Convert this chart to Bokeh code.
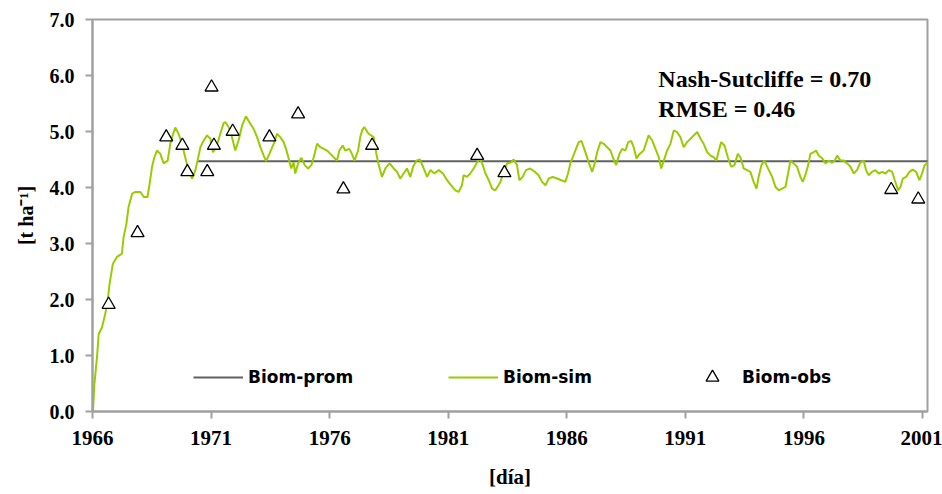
from bokeh.plotting import figure
from bokeh.models import Legend, LegendItem, Label, FixedTicker, PrintfTickFormatter, Range1d
from bokeh.embed import file_html
from bokeh.resources import INLINE

# ---------------- data ----------------
sim_year = [
    1966.02, 1966.08, 1966.19, 1966.26, 1966.40, 1966.54, 1966.64, 1966.72, 1966.86, 1967.03,
    1967.24, 1967.31, 1967.43, 1967.52, 1967.67, 1967.81, 1968.02, 1968.16, 1968.32, 1968.41,
    1968.51, 1968.61, 1968.72, 1968.86, 1969.00, 1969.17, 1969.28, 1969.40, 1969.49, 1969.63,
    1969.77, 1969.91, 1970.05, 1970.20, 1970.34, 1970.43, 1970.55, 1970.69, 1970.83, 1970.97,
    1971.08, 1971.22, 1971.39, 1971.53,
    1971.60, 1971.74, 1971.88, 1972.02, 1972.16, 1972.31, 1972.47, 1972.61, 1972.79, 1972.94,
    1973.08, 1973.22, 1973.32, 1973.46, 1973.64, 1973.78, 1973.92, 1974.06, 1974.16, 1974.27,
    1974.38, 1974.48, 1974.55, 1974.67, 1974.81, 1974.95, 1975.09, 1975.23, 1975.33, 1975.47,
    1975.61, 1975.75, 1975.89, 1976.03, 1976.17, 1976.31, 1976.41, 1976.55, 1976.66, 1976.83,
    1976.94, 1977.05, 1977.20, 1977.29,
    1977.37, 1977.46, 1977.64, 1977.86, 1977.97, 1978.07, 1978.21, 1978.35, 1978.53, 1978.70,
    1978.84, 1978.98, 1979.12, 1979.26, 1979.40, 1979.52, 1979.66, 1979.80, 1979.94, 1980.11,
    1980.25, 1980.42, 1980.60, 1980.78, 1980.95, 1981.12, 1981.30, 1981.44, 1981.58, 1981.65,
    1981.79, 1981.93, 1982.07, 1982.22, 1982.33, 1982.43, 1982.57, 1982.71, 1982.85, 1982.99,
    1983.20, 1983.34, 1983.48, 1983.66, 1983.76, 1983.90, 1984.00, 1984.14, 1984.28, 1984.46,
    1984.65, 1984.81, 1984.96, 1985.10, 1985.24, 1985.41, 1985.59, 1985.77, 1985.94, 1986.05,
    1986.15, 1986.25, 1986.36, 1986.50, 1986.62, 1986.71, 1986.81, 1986.92, 1987.07, 1987.18,
    1987.28, 1987.42, 1987.56, 1987.70, 1987.84, 1987.94, 1988.08, 1988.22, 1988.33, 1988.47,
    1988.59, 1988.72,
    1988.82, 1988.94, 1989.07, 1989.24, 1989.45, 1989.60, 1989.74, 1989.88, 1989.98, 1990.09,
    1990.23, 1990.37, 1990.51, 1990.65, 1990.79, 1990.93, 1991.07, 1991.22, 1991.35, 1991.50,
    1991.64, 1991.77, 1991.92, 1992.06, 1992.20, 1992.31, 1992.41, 1992.51, 1992.65, 1992.79,
    1992.93, 1993.07, 1993.21, 1993.32, 1993.46, 1993.60, 1993.74, 1993.88, 1994.00, 1994.09,
    1994.21, 1994.33,
    1994.52, 1994.66, 1994.80, 1994.94, 1995.08, 1995.22, 1995.33, 1995.43, 1995.57, 1995.71,
    1995.85, 1995.95, 1996.06, 1996.18, 1996.27, 1996.41, 1996.51, 1996.62, 1996.77, 1996.91,
    1997.05, 1997.19, 1997.30, 1997.40, 1997.54, 1997.68, 1997.82, 1997.96, 1998.10, 1998.24,
    1998.38, 1998.52, 1998.62, 1998.73, 1998.87, 1999.01, 1999.15, 1999.30, 1999.44, 1999.58,
    1999.72, 1999.83, 1999.97, 2000.07, 2000.17, 2000.31, 2000.45, 2000.59, 2000.73, 2000.87,
    2000.98, 2001.09, 2001.24,
]
sim_biom = [
    0.00, 0.49, 0.97, 1.38, 1.50, 1.75, 1.98, 2.28, 2.64, 2.76,
    2.82, 3.11, 3.35, 3.65, 3.89, 3.92, 3.92, 3.83, 3.83, 4.07,
    4.37, 4.54, 4.66, 4.60, 4.43, 4.48, 4.78, 4.96, 5.07, 4.96,
    4.78, 4.54, 4.31, 4.16, 4.31, 4.48, 4.72, 4.84, 4.93, 4.87,
    4.63, 4.72, 4.96, 5.15,
    5.17, 5.08, 4.90, 4.66, 4.84, 5.11, 5.27, 5.17, 5.05, 4.90,
    4.72, 4.57, 4.47, 4.60, 4.78, 4.96, 4.90, 4.81, 4.69, 4.52,
    4.34, 4.45, 4.25, 4.43, 4.53, 4.40, 4.34, 4.40, 4.54, 4.78,
    4.72, 4.69, 4.66, 4.60, 4.54, 4.48, 4.66, 4.75, 4.66, 4.69,
    4.60, 4.48, 4.66, 4.90,
    5.02, 5.08, 4.96, 4.90, 4.60, 4.40, 4.19, 4.34, 4.43, 4.34,
    4.28, 4.16, 4.25, 4.34, 4.19, 4.37, 4.48, 4.50, 4.37, 4.19,
    4.31, 4.25, 4.31, 4.25, 4.13, 4.04, 3.95, 3.92, 4.04, 4.22,
    4.19, 4.25, 4.34, 4.45, 4.52, 4.43, 4.25, 4.13, 3.98, 3.95,
    4.10, 4.28, 4.43, 4.45, 4.50, 4.40, 4.13, 4.19, 4.31, 4.34,
    4.28, 4.22, 4.10, 4.04, 4.16, 4.19, 4.16, 4.13, 4.10, 4.25,
    4.43, 4.54, 4.66, 4.81, 4.83, 4.72, 4.60, 4.45, 4.28, 4.43,
    4.63, 4.81, 4.78, 4.72, 4.66, 4.54, 4.40, 4.60, 4.69, 4.66,
    4.81, 4.83,
    4.72, 4.52, 4.60, 4.66, 4.93, 4.84, 4.69, 4.54, 4.34, 4.48,
    4.66, 4.78, 5.02, 4.99, 4.90, 4.72, 4.81, 4.87, 4.93, 4.99,
    4.87, 4.78, 4.63, 4.57, 4.54, 4.48, 4.66, 4.81, 4.75, 4.54,
    4.37, 4.40, 4.60, 4.54, 4.34, 4.31, 4.28, 4.10, 3.98, 4.19,
    4.40, 4.48,
    4.31, 4.19, 4.01, 3.95, 3.98, 4.01, 4.25, 4.48, 4.43, 4.37,
    4.19, 4.10, 4.22, 4.40, 4.60, 4.63, 4.66, 4.57, 4.52, 4.43,
    4.48, 4.44, 4.48, 4.57, 4.48, 4.48, 4.43, 4.37, 4.25, 4.31,
    4.45, 4.48, 4.31, 4.22, 4.28, 4.31, 4.25, 4.28, 4.25, 4.31,
    4.28, 4.13, 3.95, 4.01, 4.16, 4.19, 4.28, 4.32, 4.28, 4.13,
    4.25, 4.40, 4.44,
]

obs_year = [1966.68, 1967.90, 1969.11, 1969.79, 1970.00, 1970.84, 1971.02, 1971.12, 1971.91,
            1973.46, 1974.67, 1976.58, 1977.79, 1982.22, 1983.37, 1999.68, 2000.82]
obs_biom = [1.91, 3.19, 4.90, 4.75, 4.28, 4.28, 5.79, 4.75, 5.00,
            4.90, 5.31, 3.97, 4.75, 4.57, 4.26, 3.96, 3.79]

prom_year = [1970.45, 2001.22]
prom_biom = [4.47, 4.47]

year_ticks = [1966, 1971, 1976, 1981, 1986, 1991, 1996, 2001]
biom_ticks = [0, 1, 2, 3, 4, 5, 6, 7]

nash_text = "Nash-Sutcliffe = 0.70"
rmse_text = "RMSE = 0.46"

# ---------------- figure ----------------
serif = "Liberation Serif"
p = figure(width=942, height=494, output_backend="svg", toolbar_location=None,
           x_range=Range1d(1966, 2001.21), y_range=Range1d(0, 7),
           min_border_left=92, min_border_right=15, min_border_top=19, min_border_bottom=83)

p.xgrid.visible = False
p.ygrid.visible = False
p.background_fill_color = "white"
p.border_fill_color = "white"
p.outline_line_color = "#a0a0a0"
p.outline_line_width = 2

for ax in (p.xaxis[0], p.yaxis[0]):
    ax.axis_line_color = "#a0a0a0"
    ax.axis_line_width = 2
    ax.major_tick_line_color = "#a0a0a0"
    ax.major_tick_line_width = 2
    ax.major_tick_in = 0
    ax.major_tick_out = 7
    ax.minor_tick_line_color = None
    ax.major_label_text_font = serif
    ax.major_label_text_font_style = "bold"
    ax.major_label_text_color = "black"
    ax.axis_label_text_font = serif
    ax.axis_label_text_font_style = "bold"
    ax.axis_label_text_color = "black"

p.xaxis.ticker = FixedTicker(ticks=year_ticks)
p.xaxis.major_label_text_font_size = "21px"
p.xaxis.major_label_standoff = 12
p.xaxis.axis_label = "[día]"
p.xaxis.axis_label_text_font_size = "21px"
p.xaxis.axis_label_standoff = 17

p.yaxis.ticker = FixedTicker(ticks=biom_ticks)
p.yaxis.formatter = PrintfTickFormatter(format="%.1f")
p.yaxis.major_label_text_font_size = "20px"
p.yaxis.major_label_standoff = 11
p.yaxis.axis_label = "[t ha\u207b\u00b9]"
p.yaxis.axis_label_text_font_size = "20px"
p.yaxis.axis_label_standoff = 10

r_prom = p.line(prom_year, prom_biom, line_color="#606060", line_width=2)
r_sim = p.line(sim_year, sim_biom, line_color="#99CC00", line_width=2)
r_obs = p.scatter(obs_year, obs_biom, marker="triangle", size=13,
                  line_color="black", fill_color="white", line_width=1.3)

p.add_layout(Label(x=1989.86, y=5.93, text=nash_text, text_font=serif, text_font_style="bold",
                   text_font_size="24px", text_baseline="middle", text_color="black"))
p.add_layout(Label(x=1989.86, y=5.40, text=rmse_text, text_font=serif, text_font_style="bold",
                   text_font_size="24px", text_baseline="middle", text_color="black"))

def mk_legend(label, rend, xloc, gh):
    return Legend(items=[LegendItem(label=label, renderers=[rend])], location=(xloc, 34 - gh // 2),
                  orientation="horizontal", border_line_color=None, background_fill_alpha=0,
                  padding=0, margin=0, spacing=0, glyph_width=50, glyph_height=gh,
                  label_standoff=5, label_text_font="DejaVu Sans", label_text_font_style="bold",
                  label_text_font_size="17px", label_text_color="black")

p.add_layout(mk_legend("Biom-prom", r_prom, 101, 20))
p.add_layout(mk_legend("Biom-sim", r_sim, 356, 20))
p.add_layout(mk_legend("Biom-obs", r_obs, 595, 32))

open("out.html", "w").write(file_html(p, INLINE))
